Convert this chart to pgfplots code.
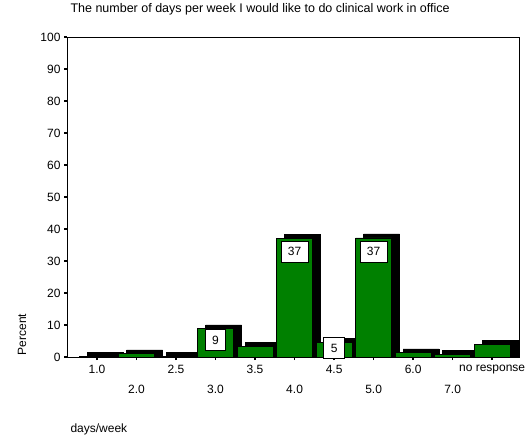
\documentclass[border=0pt]{standalone}
\usepackage{pgfplots}
\pgfplotsset{compat=1.18}
\usepackage{pgfplotstable}
\usepackage{fontspec}
\setmainfont{Liberation Sans}

\definecolor{spssgreen}{RGB}{0,128,0}

% percent per category, index 0..10
\pgfplotstableread{
x y
0 0.3
1 1.0
2 0.3
3 8.8
4 3.4
5 37.0
6 4.5
7 37.2
8 1.3
9 0.9
10 4.0
}\days

\begin{document}
\begin{tikzpicture}[font=\fontsize{12}{14}\selectfont]
\begin{axis}[
    scale only axis,
    width=452pt, height=320pt,
    xmin=-0.76, xmax=10.68,
    ymin=0, ymax=100,
    ytick={0,10,...,100},
    xtick={0,2,4,6,8,10},
    xticklabels={1.0,2.5,3.5,4.5,6.0,no response},
    extra x ticks={1,3,5,7,9},
    extra x tick labels={2.0,3.0,4.0,5.0,7.0},
    extra x tick style={xticklabel style={yshift=-20pt}},
    xticklabel style={yshift=-2pt},
    tick align=outside, tick pos=left,
    major tick length=3pt,
    tick style={black, line width=1.6pt},
    axis line style={black, line width=0.9pt},
    /pgf/number format/assume math mode=true,
    title={The number of days per week I would like to do clinical work in office},
    title style={at={(axis description cs:0,1)}, anchor=base west, yshift=18pt,
        font=\fontsize{12.5}{14}\selectfont},
    ylabel={Percent},
    ylabel style={at={(axis description cs:0,0.07)}, anchor=center, yshift=45pt},
    xlabel={days/week},
    xlabel style={at={(axis description cs:0,0)}, anchor=base west, yshift=-75pt},
    clip=false,
]
\coordinate (sw) at (rel axis cs:0,0);
\coordinate (ne) at (rel axis cs:1,1);
% 3D shadow
\addplot[ybar, bar width=36pt, bar shift=8pt, fill=black, draw=black]
    table[x=x, y expr=\thisrow{y}+1.25] {\days};
% front bars
\addplot[ybar, bar width=36pt, bar shift=0pt, fill=spssgreen, draw=black, line width=0.8pt]
    table[x=x, y=y] {\days};
% value boxes
\addplot[draw=none, mark=none, nodes near coords, point meta=explicit symbolic,
    nodes near coords style={anchor=center, fill=white, draw=black, line width=0.8pt,
        inner xsep=7pt, inner ysep=6pt}]
    coordinates {(3,5.3) [9] (5,32.9) [37] (6,2.8) [5] (7,32.9) [37]};
\end{axis}
\path ([shift={(-67pt,-79pt)}]sw) rectangle ([shift={(13pt,37pt)}]ne);
\end{tikzpicture}
\end{document}
